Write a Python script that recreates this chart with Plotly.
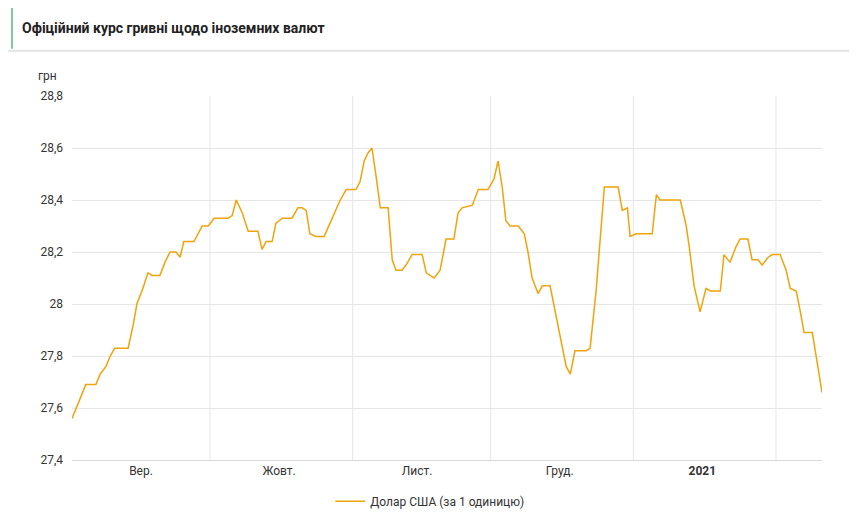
import plotly.graph_objects as go
from datetime import datetime, timedelta

start = datetime(2020, 9, 1)
day_offsets = [0,1.7,3.0,5.2,6.1,7.4,8.3,9.3,12.2,13.3,14.1,15.4,16.5,17.4,19.1,20.2,21.3,22.6,23.5,24.3,26.5,28.3,29.6,30.9,33.9,34.8,35.7,37.0,38.3,40.4,41.3,42.2,43.5,44.3,45.7,47.8,49.1,50,50.9,51.7,53,54.8,56.1,58.3,59.6,61.7,62.6,63.5,64.3,65.2,66.1,67,68.7,69.6,70.4,71.7,72.6,73.9,76.1,77,78.7,80,81.3,83,83.9,84.8,87,88.3,90.4,91.7,92.6,93.5,94.3,95.2,97,98.3,99.1,100,101.3,102.2,103.9,105.2,106.5,107.4,108.3,109.3,111.7,112.6,113.9,114.8,115.7,118.7,119.6,120.7,121.3,122.6,126.1,127,127.8,132.2,133.5,134.3,135.2,136.5,137.8,138.7,140.9,141.7,143,144.3,145.2,146.9,147.8,149.1,150,151.3,152.2,153.9,155.2,156.1,157.4,158.3,159.1,160.9,161.7,163]
usd = [27.56,27.63,27.69,27.69,27.73,27.76,27.80,27.83,27.83,27.92,28.0,28.06,28.12,28.11,28.11,28.16,28.2,28.2,28.18,28.24,28.24,28.3,28.3,28.33,28.33,28.34,28.4,28.35,28.28,28.28,28.21,28.24,28.24,28.31,28.33,28.33,28.37,28.37,28.36,28.27,28.26,28.26,28.31,28.4,28.44,28.44,28.47,28.55,28.58,28.6,28.49,28.37,28.37,28.17,28.13,28.13,28.15,28.19,28.19,28.12,28.1,28.13,28.25,28.25,28.35,28.37,28.38,28.44,28.44,28.48,28.55,28.45,28.32,28.3,28.3,28.27,28.2,28.1,28.04,28.07,28.07,27.95,27.84,27.76,27.73,27.82,27.82,27.83,28.05,28.24,28.45,28.45,28.36,28.37,28.26,28.27,28.27,28.42,28.4,28.4,28.3,28.2,28.07,27.97,28.06,28.05,28.05,28.19,28.16,28.22,28.25,28.25,28.17,28.17,28.15,28.18,28.19,28.19,28.13,28.06,28.05,27.97,27.89,27.89,27.8,27.66]
dates = [start + timedelta(days=d) for d in day_offsets]

month_starts = ["2020-10-01", "2020-11-01", "2020-12-01", "2021-01-01", "2021-02-01"]
label_dates = ["2020-09-16", "2020-10-16", "2020-11-15", "2020-12-16", "2021-01-16"]
label_text = ["Вер.", "Жовт.", "Лист.", "Груд.", "<b>2021</b>"]
y_ticks = [27.4, 27.6, 27.8, 28, 28.2, 28.4, 28.6, 28.8]
y_text = ["27,4", "27,6", "27,8", "28", "28,2", "28,4", "28,6", "28,8"]

fig = go.Figure()
fig.add_trace(go.Scatter(x=dates, y=usd, mode="lines", name="Долар США (за 1 одиницю)",
                         line=dict(color="#f0a30a", width=1.5)))

fig.update_layout(
    width=857, height=519, paper_bgcolor="white", plot_bgcolor="white",
    font=dict(family="Roboto", size=12, color="#333"),
    margin=dict(l=64, r=43, t=88, b=67, autoexpand=False),
    showlegend=True,
    legend=dict(orientation="h", x=0.477, xanchor="center", y=-0.113, yanchor="middle",
                font=dict(size=12, color="#333")),
    xaxis=dict(range=[start, start + timedelta(days=163)], tickvals=label_dates, ticktext=label_text,
               showgrid=False, ticks="", showline=True, linecolor="#d9d9d9"),
    yaxis=dict(range=[27.4, 28.8], tickvals=y_ticks, ticktext=y_text, showgrid=True,
               gridcolor="#e6e6e6", zeroline=False, ticks="", ticklabelstandoff=8),
    shapes=[
        dict(type="line", xref="paper", yref="paper", x0=-0.085, x1=1.06, y0=1.124, y1=1.124,
             line=dict(color="#e3e3e3", width=2)),
        dict(type="line", xref="paper", yref="paper", x0=-0.08, x1=-0.08, y0=1.13, y1=1.26,
             line=dict(color="#7fc8a0", width=2)),
    ] + [
        dict(type="line", xref="x", yref="paper", x0=m, x1=m, y0=0, y1=1,
             line=dict(color="#e6e6e6", width=1), layer="below") for m in month_starts
    ],
    annotations=[
        dict(text="<b>Офіційний курс гривні щодо іноземних валют</b>", xref="paper", yref="paper",
             x=-0.07, y=1.187, xanchor="left", yanchor="middle", showarrow=False,
             font=dict(size=14, color="#222", family="Roboto")),
        dict(text="грн", xref="paper", yref="paper", x=-0.033, y=1.055, xanchor="center",
             yanchor="middle", showarrow=False, font=dict(size=12, color="#333")),
    ],
)
fig.write_html("out.html")
